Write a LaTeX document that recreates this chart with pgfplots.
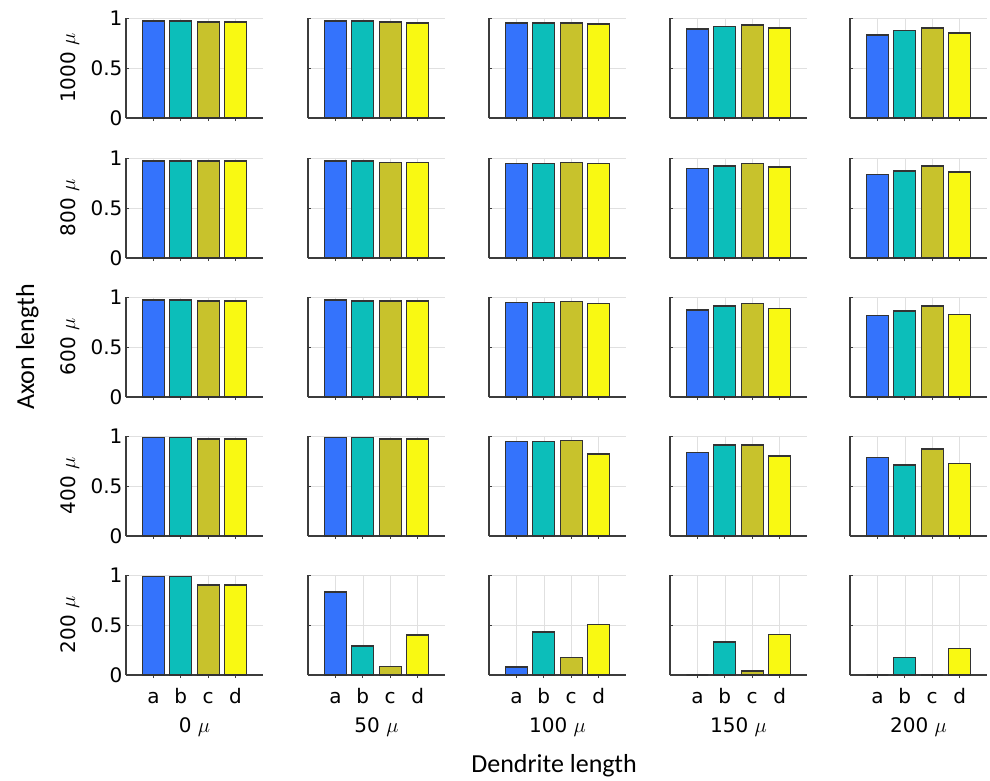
\documentclass[border=0pt]{standalone}
\usepackage{pgfplots}
\pgfplotsset{compat=1.18}
\usepackage{fontspec}
\setmainfont{DejaVu Sans}
\newfontfamily\carlito{Carlito}
\definecolor{cA}{RGB}{52,115,252}
\definecolor{cB}{RGB}{12,190,186}
\definecolor{cC}{RGB}{200,194,44}
\definecolor{cD}{RGB}{249,249,18}
\definecolor{axgray}{RGB}{60,60,60}
\pgfplotsset{
  cell/.style={
    scale only axis, width=137pt, height=100pt,
    xmin=0, xmax=5, ymin=0, ymax=1,
    xtick={1,2,3,4}, ytick={0,0.5,1},
    xticklabels={a,b,c,d},
    axis x line*=bottom, axis y line*=left,
    axis line style={axgray, line width=1.2pt},
    tick style={axgray, line width=0.7pt},
    tick align=inside, major tick length=3pt,
    grid=major, major grid style={black!12, line width=0.6pt},
    ybar, bar width=0.8, bar shift=0pt,
    /pgf/number format/assume math mode=true,
    tick label style={font=\fontsize{20}{24}\selectfont},
    xticklabel style={anchor=base, yshift=-25pt},
    every axis y label/.style={at={(axis description cs:-0.372,0.5)}, anchor=base, rotate=90, font=\fontsize{20}{24}\selectfont},
    every axis x label/.style={at={(axis description cs:0.5,-0.575)}, anchor=base, font=\fontsize{20}{24}\selectfont},
    every axis plot/.append style={draw=black!80, line width=1.2pt},
    clip=false,
  }
}
\newcommand{\cell}[7]{%
  \begin{axis}[cell, at={(#1pt,-#2pt)}, anchor=north west, #3]
    \addplot[fill=cA] coordinates {(1,#4)};
    \addplot[fill=cB] coordinates {(2,#5)};
    \addplot[fill=cC] coordinates {(3,#6)};
    \addplot[fill=cD] coordinates {(4,#7)};
  \end{axis}}
\begin{document}
\begin{tikzpicture}
\path[use as bounding box] (0pt,0pt) rectangle (990pt,-780pt);
% row 1000
\cell{126}{18}{ylabel={1000 $\mu$}, xticklabels={}}{0.97}{0.97}{0.96}{0.96}
\cell{308}{18}{yticklabels={}, xticklabels={}}{0.97}{0.97}{0.96}{0.95}
\cell{489}{18}{yticklabels={}, xticklabels={}}{0.95}{0.95}{0.95}{0.94}
\cell{670}{18}{yticklabels={}, xticklabels={}}{0.89}{0.915}{0.93}{0.90}
\cell{850}{18}{yticklabels={}, xticklabels={}}{0.83}{0.875}{0.90}{0.85}
% row 800
\cell{126}{158}{ylabel={800 $\mu$}, xticklabels={}}{0.97}{0.97}{0.97}{0.97}
\cell{308}{158}{yticklabels={}, xticklabels={}}{0.97}{0.97}{0.955}{0.955}
\cell{489}{158}{yticklabels={}, xticklabels={}}{0.945}{0.945}{0.955}{0.945}
\cell{670}{158}{yticklabels={}, xticklabels={}}{0.895}{0.92}{0.945}{0.91}
\cell{850}{158}{yticklabels={}, xticklabels={}}{0.835}{0.87}{0.92}{0.86}
% row 600
\cell{126}{297}{ylabel={600 $\mu$}, xticklabels={}}{0.97}{0.97}{0.96}{0.96}
\cell{308}{297}{yticklabels={}, xticklabels={}}{0.97}{0.96}{0.96}{0.96}
\cell{489}{297}{yticklabels={}, xticklabels={}}{0.945}{0.945}{0.955}{0.935}
\cell{670}{297}{yticklabels={}, xticklabels={}}{0.87}{0.91}{0.935}{0.885}
\cell{850}{297}{yticklabels={}, xticklabels={}}{0.815}{0.86}{0.91}{0.825}
% row 400
\cell{126}{436}{ylabel={400 $\mu$}, xticklabels={}}{0.985}{0.985}{0.97}{0.97}
\cell{308}{436}{yticklabels={}, xticklabels={}}{0.985}{0.985}{0.97}{0.97}
\cell{489}{436}{yticklabels={}, xticklabels={}}{0.945}{0.945}{0.955}{0.82}
\cell{670}{436}{yticklabels={}, xticklabels={}}{0.835}{0.91}{0.91}{0.80}
\cell{850}{436}{yticklabels={}, xticklabels={}}{0.785}{0.71}{0.87}{0.725}
% row 200
\cell{126}{575}{ylabel={200 $\mu$}, xlabel={0 $\mu$}}{0.985}{0.985}{0.90}{0.90}
\cell{308}{575}{yticklabels={}, xlabel={50 $\mu$}}{0.83}{0.29}{0.085}{0.40}
\cell{489}{575}{yticklabels={}, xlabel={100 $\mu$}}{0.08}{0.43}{0.175}{0.505}
\cell{670}{575}{yticklabels={}, xlabel={150 $\mu$}}{0}{0.33}{0.04}{0.405}
\cell{850}{575}{yticklabels={}, xlabel={200 $\mu$}}{0}{0.175}{0}{0.265}
\node[rotate=90, anchor=base, font=\carlito\fontsize{26}{30}\selectfont] at (34pt,-347pt) {Axon length};
\node[anchor=base, font=\carlito\fontsize{26}{30}\selectfont] at (554pt,-772pt) {Dendrite length};
\end{tikzpicture}
\end{document}
